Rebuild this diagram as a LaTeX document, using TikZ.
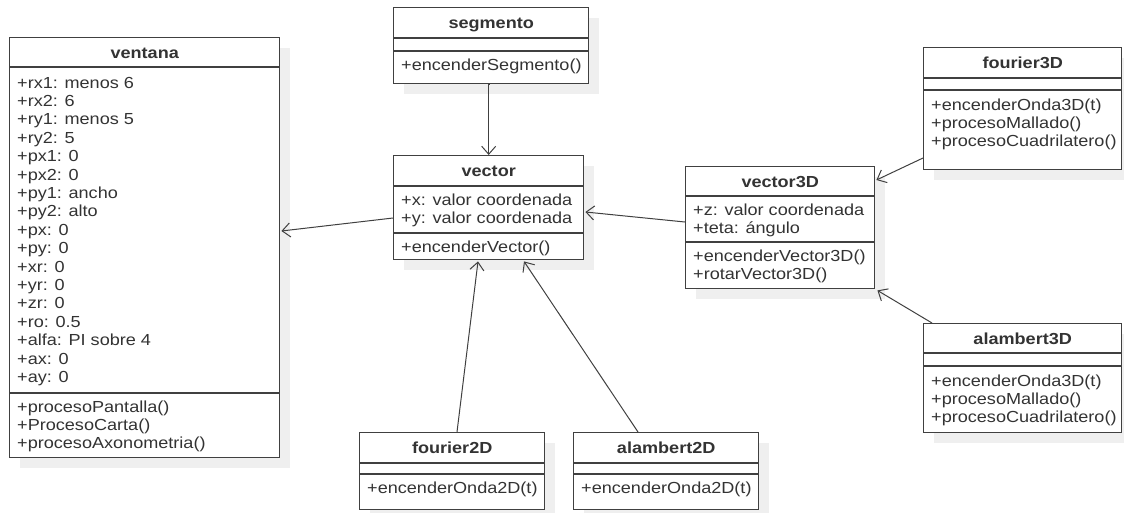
\documentclass[tikz,border=0pt]{standalone}
\usepackage{fontspec}
\setmainfont{Liberation Sans}[FakeStretch=1.13]
\usetikzlibrary{arrows.meta,calc,shadows}
\definecolor{umlline}{HTML}{404040}
\definecolor{umltext}{HTML}{333333}
\definecolor{umlshadow}{HTML}{EFEFEF}
\tikzset{
  umlclass/.style={draw=umlline, line width=1.4pt, fill=white, anchor=north west, inner sep=0pt,
    drop shadow={shadow xshift=10pt, shadow yshift=-10pt, fill=umlshadow, opacity=1}},
  umltitle/.style={anchor=base, inner sep=0pt, text=umltext, font=\fontsize{16}{18}\selectfont\bfseries},
  member/.style={anchor=base west, inner sep=0pt, text=umltext, font=\fontsize{16}{18}\selectfont},
  sep/.style={draw=umlline, line width=1.4pt},
  uses/.style={draw=umlline, line width=1pt, -{Straight Barb[length=8pt,width=14pt]}}
}
\begin{document}
\begin{tikzpicture}[x=1pt,y=-1pt]
	\useasboundingbox (0,0) rectangle (1124,512);
	
	% ventana
	\node[umlclass, minimum width=270pt, minimum height=420pt] (ventana) at (9,37) {};
	\node[umltitle] (ventana-t) at ($(ventana.north)+(0,21.3)$) {ventana};
	\draw[sep] ($(ventana.north west)+(0,30)$) -- ($(ventana.north east)+(0,30)$);
	\draw[sep] ($(ventana.north west)+(0,356)$) -- ($(ventana.north east)+(0,356)$);
	\foreach \m [count=\i] in {+rx1: menos 6, +rx2: 6, +ry1: menos 5, +ry2: 5, +px1: 0, +px2: 0,
		+py1: ancho, +py2: alto, +px: 0, +py: 0, +xr: 0, +yr: 0, +zr: 0, +ro: 0.5,
		+alfa: PI sobre 4, +ax: 0, +ay: 0}{
		\node[member] (ventana-a\i) at (17, {88+18.4*(\i-1)}) {\m};
	}
	\foreach \m [count=\i] in {+procesoPantalla(), +ProcesoCarta(), +procesoAxonometria()}{
		\node[member] (ventana-m\i) at (17, {412+18.4*(\i-1)}) {\m};
	}
	
	% segmento
	\node[umlclass, minimum width=195pt, minimum height=76pt] (segmento) at (393,7) {};
	\node[umltitle] (segmento-t) at ($(segmento.north)+(0,21.3)$) {segmento};
	\draw[sep] ($(segmento.north west)+(0,31)$) -- ($(segmento.north east)+(0,31)$);
	\draw[sep] ($(segmento.north west)+(0,44)$) -- ($(segmento.north east)+(0,44)$);
	\node[member] (segmento-m1) at (401, 70) {+encenderSegmento()};
	
	% vector
	\node[umlclass, minimum width=190pt, minimum height=104pt] (vector) at (393,155) {};
	\node[umltitle] (vector-t) at ($(vector.north)+(0,21.3)$) {vector};
	\draw[sep] ($(vector.north west)+(0,31)$) -- ($(vector.north east)+(0,31)$);
	\draw[sep] ($(vector.north west)+(0,78)$) -- ($(vector.north east)+(0,78)$);
	\node[member] (vector-a1) at (401, 205) {+x: valor coordenada};
	\node[member] (vector-a2) at (401, 223) {+y: valor coordenada};
	\node[member] (vector-m1) at (401, 252) {+encenderVector()};
	
	% vector3D
	\node[umlclass, minimum width=189pt, minimum height=122pt] (vector3D) at (685,166) {};
	\node[umltitle] (vector3D-t) at ($(vector3D.north)+(0,21.3)$) {vector3D};
	\draw[sep] ($(vector3D.north west)+(0,30)$) -- ($(vector3D.north east)+(0,30)$);
	\draw[sep] ($(vector3D.north west)+(0,76)$) -- ($(vector3D.north east)+(0,76)$);
	\node[member] (vector3D-a1) at (693, 215) {+z: valor coordenada};
	\node[member] (vector3D-a2) at (693, 233) {+teta: ángulo};
	\node[member] (vector3D-m1) at (693, 261) {+encenderVector3D()};
	\node[member] (vector3D-m2) at (693, 279) {+rotarVector3D()};
	
	% fourier3D
	\node[umlclass, minimum width=198pt, minimum height=122pt] (fourier3D) at (923,47) {};
	\node[umltitle] (fourier3D-t) at ($(fourier3D.north)+(0,21.3)$) {fourier3D};
	\draw[sep] ($(fourier3D.north west)+(0,31)$) -- ($(fourier3D.north east)+(0,31)$);
	\draw[sep] ($(fourier3D.north west)+(0,43)$) -- ($(fourier3D.north east)+(0,43)$);
	\foreach \m [count=\i] in {+encenderOnda3D(t), +procesoMallado(), +procesoCuadrilatero()}{
		\node[member] (fourier3D-m\i) at (931, {110+18*(\i-1)}) {\m};
	}
	
	% alambert3D
	\node[umlclass, minimum width=198pt, minimum height=109pt] (alambert3D) at (923,323) {};
	\node[umltitle] (alambert3D-t) at ($(alambert3D.north)+(0,21.3)$) {alambert3D};
	\draw[sep] ($(alambert3D.north west)+(0,30)$) -- ($(alambert3D.north east)+(0,30)$);
	\draw[sep] ($(alambert3D.north west)+(0,43)$) -- ($(alambert3D.north east)+(0,43)$);
	\foreach \m [count=\i] in {+encenderOnda3D(t), +procesoMallado(), +procesoCuadrilatero()}{
		\node[member] (alambert3D-m\i) at (931, {386+18*(\i-1)}) {\m};
	}
	
	% fourier2D and alambert2D
	\node[umlclass, minimum width=185pt, minimum height=77pt] (fourier2D) at (359,432) {};
	\node[umltitle] (fourier2D-t) at ($(fourier2D.north)+(0,21.3)$) {fourier2D};
	\draw[sep] ($(fourier2D.north west)+(0,31)$) -- ($(fourier2D.north east)+(0,31)$);
	\draw[sep] ($(fourier2D.north west)+(0,42)$) -- ($(fourier2D.north east)+(0,42)$);
	\node[member] (fourier2D-m1) at (367, 493) {+encenderOnda2D(t)};
	
	\node[umlclass, minimum width=185pt, minimum height=77pt] (alambert2D) at (573,432) {};
	\node[umltitle] (alambert2D-t) at ($(alambert2D.north)+(0,21.3)$) {alambert2D};
	\draw[sep] ($(alambert2D.north west)+(0,31)$) -- ($(alambert2D.north east)+(0,31)$);
	\draw[sep] ($(alambert2D.north west)+(0,42)$) -- ($(alambert2D.north east)+(0,42)$);
	\node[member] (alambert2D-m1) at (581, 493) {+encenderOnda2D(t)};
	
	% connectors
	\draw[uses] ($(segmento.south)+(-2,0)$) -- (vector.north |- segmento.south) -- (vector.north);
	\draw[uses] ($(vector.north west)+(0,63)$) -- ($(ventana.north east)+(1,194)$);
	\draw[uses] ($(vector3D.north west)+(0,56)$) -- ($(vector.north east)+(1,57)$);
	\draw[uses] ($(fourier3D.north west)+(0,111)$) -- ($(vector3D.north east)+(1,14)$);
	\draw[uses] ($(alambert3D.north west)+(9,0)$) -- ($(vector3D.south east)+(2,1)$);
	\draw[uses] ($(fourier2D.north west)+(98,0)$) -- ($(vector.south west)+(85,1)$);
	\draw[uses] ($(alambert2D.north west)+(65,0)$) -- ($(vector.south west)+(131,1)$);
\end{tikzpicture}
\end{document}
